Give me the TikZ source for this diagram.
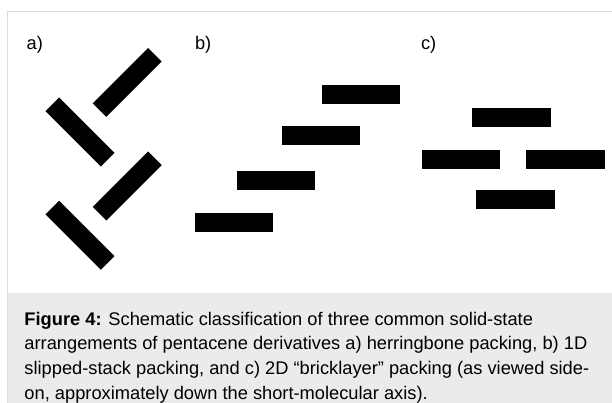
\documentclass[tikz,border=0pt]{standalone}
\usepackage{fontspec}
\setmainfont{Liberation Sans}
\definecolor{framegray}{HTML}{DCDCDC}
\definecolor{capgray}{HTML}{EBEBEB}
\begin{document}
\begin{tikzpicture}[
        font=\fontsize{13}{17.6}\selectfont,
        mol/.style={fill=black, inner sep=0pt, minimum width=1.96cm, minimum height=0.48cm},
        lbl/.style={anchor=base west, inner sep=0pt},
        captext/.style={anchor=north west, inner sep=0pt, align=left}]
    \useasboundingbox (0,0) rectangle (15.3,-10.075);

    % ---------- frame and caption panel ----------
    \fill[capgray] (0.19,-7.33) rectangle (15.4,-10.2);
    \draw[framegray, line width=0.6pt] (15.4,-0.29) -- (0.19,-0.29) -- (0.19,-10.2);

    % ---------- panel labels ----------
    \node[lbl] (la) at (0.66,-1.25) {a)};
    \node[lbl] (lb) at (4.87,-1.25) {b)};
    \node[lbl] (lc) at (10.52,-1.25) {c)};

    % ---------- (a) herringbone ----------
    \node[mol, rotate=45] (a1) at (3.18,-2.06) {};
    \node[mol, rotate=-45] (a2) at (2.00,-3.30) {};
    \node[mol, rotate=45] (a3) at (3.18,-4.65) {};
    \node[mol, rotate=-45] (a4) at (2.00,-5.88) {};

    % ---------- (b) 1D slipped stack ----------
    \node[mol] (b1) at (5.85,-5.56) {};
    \node[mol] (b2) at (6.895,-4.51) {};
    \node[mol] (b3) at (8.02,-3.39) {};
    \node[mol] (b4) at (9.03,-2.36) {};

    % ---------- (c) 2D bricklayer ----------
    \node[mol] (ct) at (12.79,-2.94) {};
    \node[mol] (cl) at (11.52,-3.99) {};
    \node[mol] (cr) at (14.14,-3.98) {};
    \node[mol] (cb) at (12.89,-4.99) {};

    % ---------- caption ----------
    \node[captext] (caption) at (0.605,-7.79) {\textbf{Figure 4:} Schematic classification of three common solid-state\\
        arrangements of pentacene derivatives a) herringbone packing, b) 1D\\
        slipped-stack packing, and c) 2D “bricklayer” packing (as viewed side-\\
        on, approximately down the short-molecular axis).};
\end{tikzpicture}
\end{document}
